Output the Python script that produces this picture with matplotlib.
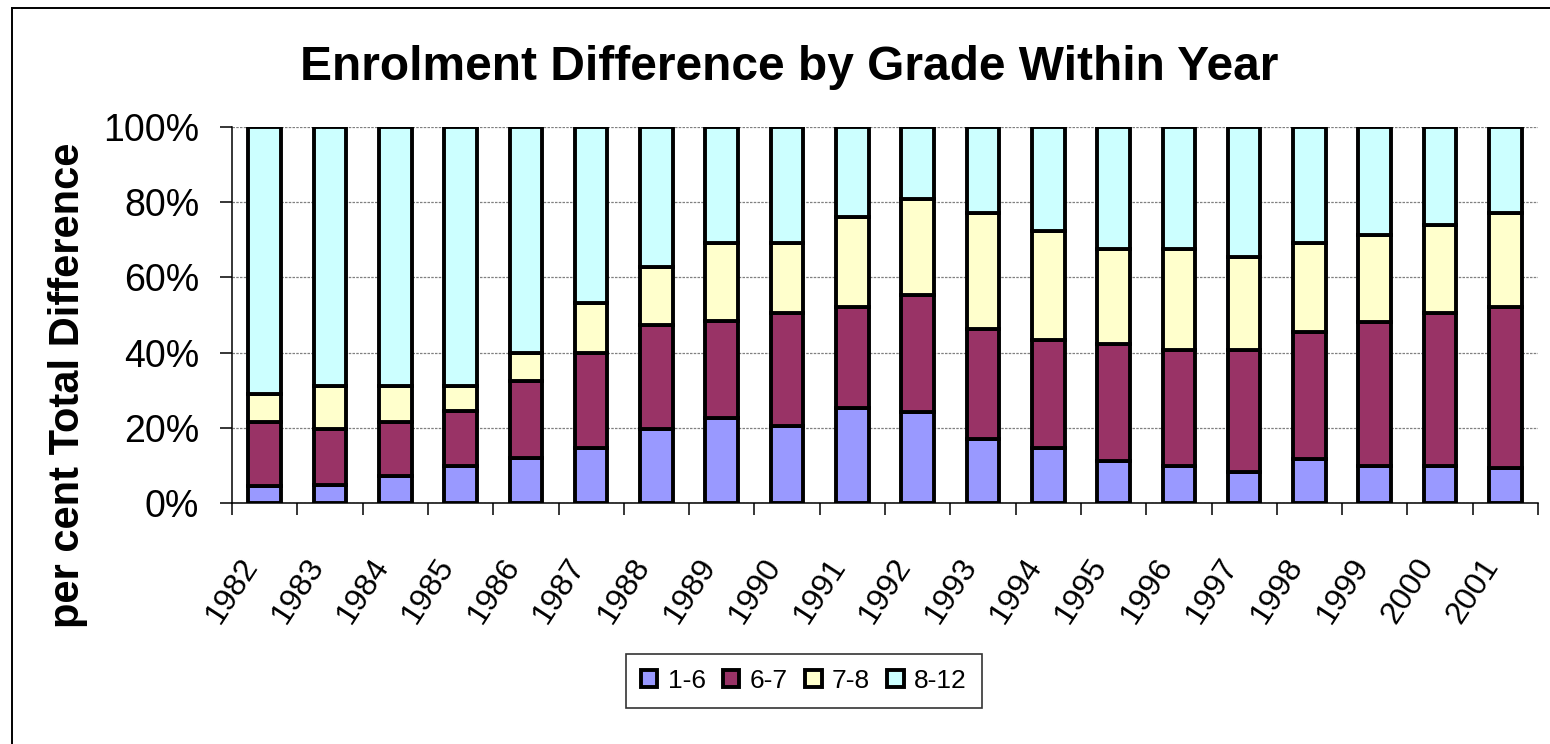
import matplotlib
matplotlib.use("Agg")
import matplotlib.pyplot as plt
from matplotlib.ticker import PercentFormatter, FixedLocator, NullFormatter
from matplotlib.lines import Line2D
import numpy as np

years = ["1982", "1983", "1984", "1985", "1986", "1987", "1988", "1989", "1990", "1991",
         "1992", "1993", "1994", "1995", "1996", "1997", "1998", "1999", "2000", "2001"]
grade_1_6 = [4.4, 4.9, 7.1, 9.8, 12.0, 14.7, 19.6, 22.7, 20.6, 25.3,
             24.3, 16.9, 14.7, 11.1, 9.8, 8.3, 11.8, 9.8, 9.8, 9.3]
grade_6_7 = [17.2, 14.7, 14.5, 14.6, 20.4, 25.1, 27.7, 25.7, 29.8, 26.7,
             31.1, 29.3, 28.7, 31.3, 30.9, 32.4, 33.7, 38.4, 40.6, 42.9]
grade_7_8 = [7.5, 11.5, 9.5, 6.7, 7.4, 13.3, 15.4, 20.7, 18.7, 24.0,
             25.5, 30.9, 29.0, 25.2, 26.9, 24.6, 23.6, 23.1, 23.6, 24.9]
grade_8_12 = [70.9, 68.9, 68.9, 68.9, 60.2, 46.9, 37.3, 30.9, 30.9, 24.0,
              19.1, 22.9, 27.6, 32.4, 32.4, 34.7, 30.9, 28.7, 26.0, 22.9]
series_names = ["1-6", "6-7", "7-8", "8-12"]
colors = ["#9999FF", "#993366", "#FFFFCC", "#CCFFFF"]

plt.rcParams["font.family"] = ["Liberation Sans", "DejaVu Sans"]

W, H = 1550, 744
fig = plt.figure(figsize=(W / 100, H / 100), dpi=100)
ax = fig.add_axes([232 / W, 1 - 503 / H, 1306 / W, 376 / H])

x = np.arange(len(years))
bottom = np.zeros(len(years))
handles = []
for vals, name, col in zip([grade_1_6, grade_6_7, grade_7_8, grade_8_12], series_names, colors):
    vals = np.array(vals)
    b = ax.bar(x, vals, 0.5, bottom=bottom, color=col, edgecolor="black",
               linewidth=2.8, label=name, zorder=3)
    bottom += vals
    handles.append(b)

ax.set_xlim(-0.5, len(years) - 0.5)
ax.set_ylim(0, 100)
ax.set_yticks(np.arange(0, 101, 20))
ax.yaxis.set_major_formatter(PercentFormatter(100, decimals=0))
ax.grid(axis="y", color="#808080", linestyle=(0, (2, 1)), linewidth=0.9, zorder=0)
ax.tick_params(axis="y", direction="out", length=8.5, width=1.1, labelsize=27, pad=15)

# ticks between categories, labels at the centres
ax.xaxis.set_major_locator(FixedLocator(np.arange(-0.5, len(years), 1)))
ax.xaxis.set_major_formatter(NullFormatter())
ax.xaxis.set_minor_locator(FixedLocator(x))
ax.set_xticklabels(years, minor=True, rotation=57, ha="right", va="top")
ax.tick_params(axis="x", which="major", direction="out", length=8.5, width=1.1)
ax.tick_params(axis="x", which="minor", length=0, labelsize=23, pad=36)

for s in ["top", "right"]:
    ax.spines[s].set_visible(False)
for s in ["left", "bottom"]:
    ax.spines[s].set_linewidth(1.1)

fig.text(789 / W, 1 - 68 / H, "Enrolment Difference by Grade Within Year",
         fontsize=34.5, fontweight="bold", ha="center", va="center")
fig.text(68 / W, 1 - 385 / H, "per cent Total Difference", fontsize=30,
         fontweight="bold", rotation=90, ha="center", va="center")

leg = fig.legend(handles=handles, labels=series_names, loc="center",
                 bbox_to_anchor=(804 / W, 1 - 681 / H), ncol=4, fontsize=19,
                 frameon=True, fancybox=False, edgecolor="black",
                 handlelength=0.62, handleheight=0.62, handletextpad=0.4,
                 columnspacing=0.65, borderpad=0.55, borderaxespad=0)
leg.get_frame().set_linewidth(1.2)

# chart border (left and top visible in the original crop)
fig.add_artist(Line2D([12 / W, 12 / W], [0, 1 - 8 / H], color="black", linewidth=1.4))
fig.add_artist(Line2D([12 / W, 1], [1 - 8 / H, 1 - 8 / H], color="black", linewidth=1.4))

fig.savefig("out.png", dpi=100, facecolor="white")
